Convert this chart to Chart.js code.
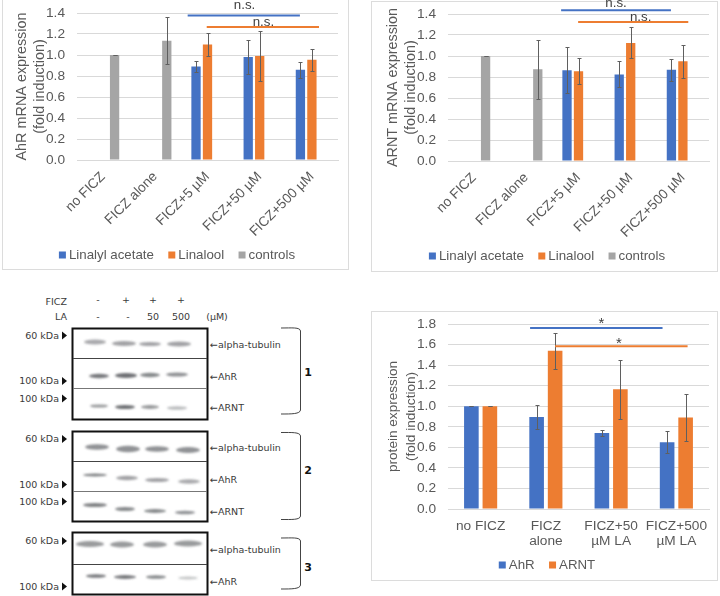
<!DOCTYPE html>
<html>
<head>
<meta charset="utf-8">
<title>AhR / ARNT expression</title>
<script src="https://cdn.jsdelivr.net/npm/chart.js@4"></script>
<style>
  html, body { margin: 0; background: #fff; }
  #page { position: relative; width: 720px; height: 596px; overflow: hidden; }
  .frame { position: absolute; border: 1px solid #dcdcdc; box-sizing: border-box; }
  canvas { position: absolute; }
  svg { position: absolute; left: 0; top: 285px; }
  svg text { font-family: "DejaVu Sans", sans-serif; font-size: 9.5px; fill: #3a3a3a; }
</style>
</head>
<body>
<div id="page">
  <div class="frame" style="left:2px;top:-2px;width:347px;height:272px"></div>
  <div class="frame" style="left:371px;top:1px;width:347px;height:271px"></div>
  <div class="frame" style="left:371px;top:311px;width:347px;height:270px"></div>
  <canvas id="ahrChart" width="360" height="280" style="left:0;top:0"></canvas>
  <canvas id="arntChart" width="349" height="280" style="left:371px;top:0"></canvas>
  <canvas id="proteinChart" width="349" height="270" style="left:371px;top:311px"></canvas>

  <svg width="330" height="311" viewBox="0 285 330 311">
    <defs>
      <filter id="soft" x="-30%" y="-120%" width="160%" height="340%"><feGaussianBlur stdDeviation="1.3 1"/></filter>
    </defs>
    <text x="67" y="305" text-anchor="end">FICZ</text>
    <text x="67" y="320" text-anchor="end">LA</text>
    <g text-anchor="middle">
      <text x="98" y="303">-</text><text x="126" y="303">+</text><text x="153" y="303">+</text><text x="181" y="303">+</text>
      <text x="98" y="320">-</text><text x="128" y="320">-</text><text x="153" y="320">50</text><text x="181" y="320">500</text>
      <text x="217" y="320">(µM)</text>
    </g>

    <!-- blot bands -->
    <g filter="url(#soft)" fill="#55585c">
      <ellipse cx="95" cy="342" rx="11" ry="2.6" opacity=".5"/><ellipse cx="124" cy="343.5" rx="12" ry="2.4" opacity=".55"/><ellipse cx="150" cy="344" rx="11" ry="2" opacity=".55"/><ellipse cx="179" cy="344" rx="12" ry="2.4" opacity=".55"/>
      <ellipse cx="99" cy="376" rx="10" ry="2.2" opacity=".8"/><ellipse cx="126" cy="375.5" rx="11" ry="2.6" opacity=".85"/><ellipse cx="150" cy="375" rx="10" ry="2.2" opacity=".7"/><ellipse cx="177" cy="374.5" rx="11" ry="2" opacity=".65"/>
      <ellipse cx="99" cy="406" rx="9" ry="1.6" opacity=".6"/><ellipse cx="125" cy="407" rx="10" ry="2" opacity=".85"/><ellipse cx="150" cy="407" rx="9" ry="1.9" opacity=".6"/><ellipse cx="177" cy="408" rx="10" ry="1.8" opacity=".4"/>

      <ellipse cx="97" cy="447" rx="12" ry="2.8" opacity=".65"/><ellipse cx="128" cy="449" rx="12" ry="3.2" opacity=".65"/><ellipse cx="157" cy="449" rx="12" ry="2.8" opacity=".65"/><ellipse cx="188" cy="450" rx="12" ry="3" opacity=".65"/>
      <ellipse cx="95" cy="475" rx="12" ry="1.5" opacity=".75"/><ellipse cx="127" cy="478" rx="11" ry="2.2" opacity=".55"/><ellipse cx="157" cy="480" rx="12" ry="2" opacity=".55"/><ellipse cx="189" cy="481.5" rx="11" ry="2.2" opacity=".5"/>
      <ellipse cx="95" cy="505" rx="12" ry="2" opacity=".75"/><ellipse cx="125" cy="509" rx="10" ry="2" opacity=".7"/><ellipse cx="155" cy="511" rx="11" ry="1.9" opacity=".7"/><ellipse cx="185" cy="512.5" rx="10" ry="1.8" opacity=".65"/>

      <ellipse cx="90" cy="544" rx="14" ry="3" opacity=".6"/><ellipse cx="122" cy="544.5" rx="12" ry="3" opacity=".6"/><ellipse cx="155" cy="544.5" rx="12" ry="3" opacity=".6"/><ellipse cx="188" cy="543.5" rx="14" ry="3" opacity=".6"/>
      <ellipse cx="96" cy="576" rx="10" ry="1.8" opacity=".8"/><ellipse cx="125" cy="577" rx="11" ry="1.9" opacity=".8"/><ellipse cx="156" cy="577" rx="10" ry="1.8" opacity=".7"/><ellipse cx="188" cy="578" rx="10" ry="1.4" opacity=".35"/>
    </g>

    <!-- blot outlines -->
    <g fill="none" stroke="#111" stroke-width="2">
      <rect x="72.5" y="328.5" width="135" height="91"/>
      <rect x="72.5" y="431.5" width="135" height="90"/>
      <rect x="72.5" y="532.5" width="135" height="62"/>
    </g>
    <g stroke-width="1" stroke="#444">
      <path d="M73 358.5H207M73 461.5H207M73 564.5H207"/>
      <path d="M73 388.5H207M73 491.5H207" stroke="#777"/>
    </g>

    <!-- size markers -->
    <g text-anchor="end">
      <text x="59" y="339">60 kDa</text><text x="59" y="384">100 kDa</text><text x="59" y="402">100 kDa</text>
      <text x="59" y="442">60 kDa</text><text x="59" y="488">100 kDa</text><text x="59" y="505">100 kDa</text>
      <text x="59" y="544">60 kDa</text><text x="59" y="590">100 kDa</text>
    </g>
    <g fill="#111">
      <path d="M62 331.5l5 4-5 4zM62 377l5 4-5 4zM62 394.5l5 4-5 4z"/>
      <path d="M62 435l5 4-5 4zM62 480.5l5 4-5 4zM62 497.5l5 4-5 4z"/>
      <path d="M62 537l5 4-5 4zM62 582.5l5 4-5 4z"/>
    </g>

    <!-- band names -->
    <text x="210" y="348">←alpha-tubulin</text><text x="210" y="380">←AhR</text><text x="210" y="411">←ARNT</text>
    <text x="210" y="451">←alpha-tubulin</text><text x="210" y="483">←AhR</text><text x="210" y="515">←ARNT</text>
    <text x="210" y="553">←alpha-tubulin</text><text x="210" y="585">←AhR</text>

    <!-- replicate brackets -->
    <g fill="none" stroke="#444" stroke-width="1">
      <path d="M281 328C292 328 300 327 300.5 331V410C300 414 292 414 281 414"/>
      <path d="M281 432.500C292 432.500 300 432 300.500 436V516C300 520 292 519.500 281 519.500"/>
      <path d="M281 538C292 538 300 537 300.500 541V585C300 589 292 589 281 589"/>
    </g>
    <g text-anchor="middle" style="font-weight:bold">
      <text x="308" y="376" style="font-size:11px;font-weight:bold;fill:#111">1</text>
      <text x="308" y="474" style="font-size:11px;font-weight:bold;fill:#111">2</text>
      <text x="308" y="571" style="font-size:11px;font-weight:bold;fill:#111">3</text>
    </g>
  </svg>
</div>

<script>
  // mRNA charts
  var mrnaLabels = ["no FICZ", "FICZ alone", "FICZ+5 µM", "FICZ+50 µM", "FICZ+500 µM"];

  var ahrAcetate = [null, null, 0.89, 0.98, 0.86];
  var ahrAcetateErr = [0, 0, 0.05, 0.16, 0.075];
  var ahrLinalool = [null, null, 1.10, 0.99, 0.955];
  var ahrLinaloolErr = [0, 0, 0.105, 0.24, 0.105];
  var ahrControls = [1.0, 1.135, null, null, null];
  var ahrControlsErr = [0, 0.225, 0, 0, 0];

  var arntAcetate = [null, null, 0.865, 0.825, 0.87];
  var arntAcetateErr = [0, 0, 0.218, 0.123, 0.105];
  var arntLinalool = [null, null, 0.855, 1.125, 0.95];
  var arntLinaloolErr = [0, 0, 0.123, 0.148, 0.155];
  var arntControls = [1.0, 0.875, null, null, null];
  var arntControlsErr = [0, 0.28, 0, 0, 0];

  // western blot quantification
  var proteinLabels = ["no FICZ", ["FICZ", "alone"], ["FICZ+50", "µM LA"], ["FICZ+500", "µM LA"]];
  var proteinAhr = [1.0, 0.895, 0.74, 0.65];
  var proteinAhrErr = [0, 0.12, 0.028, 0.105];
  var proteinArnt = [1.0, 1.54, 1.165, 0.89];
  var proteinArntErr = [0, 0.175, 0.287, 0.228];

  var BLUE = "#4472C4";
  var ORANGE = "#ED7D31";
  var GRAY = "#A5A5A5";
  var TEXT = "#595959";
  var GRID = "#D9D9D9";
  var FONT = "'Liberation Sans', Arial, sans-serif";

  // error whiskers, taken from dataset.errors
  var whiskers = {
    id: "whiskers",
    afterDatasetsDraw: function (chart) {
      var ctx = chart.ctx;
      var y = chart.scales.y;
      ctx.save();
      ctx.strokeStyle = "#5f5f5f";
      ctx.lineWidth = 1;
      chart.data.datasets.forEach(function (ds, i) {
        var meta = chart.getDatasetMeta(i);
        ds.data.forEach(function (v, j) {
          if (v === null) return;
          var x = Math.round(meta.data[j].x) + 0.5;
          var hi = Math.round(y.getPixelForValue(v + ds.errors[j])) + 0.5;
          var lo = Math.round(y.getPixelForValue(v - ds.errors[j])) + 0.5;
          ctx.beginPath();
          ctx.moveTo(x, hi); ctx.lineTo(x, lo);
          ctx.moveTo(x - 2, hi); ctx.lineTo(x + 2, hi);
          ctx.moveTo(x - 2, lo); ctx.lineTo(x + 2, lo);
          ctx.stroke();
        });
      });
      ctx.restore();
    },
  };

  // comparison bars above the columns (from/to are category positions)
  var brackets = {
    id: "brackets",
    afterDraw: function (chart, args, opts) {
      var ctx = chart.ctx;
      var xs = chart.scales.x;
      var ys = chart.scales.y;
      ctx.save();
      (opts.items || []).forEach(function (b) {
        var py = ys.getPixelForValue(b.value);
        ctx.strokeStyle = b.color;
        ctx.lineWidth = 2;
        ctx.beginPath();
        ctx.moveTo(xs.getPixelForValue(b.from), py);
        ctx.lineTo(xs.getPixelForValue(b.to), py);
        ctx.stroke();
        ctx.fillStyle = "#404040";
        ctx.font = b.font || "13.3px " + FONT;
        ctx.textAlign = "center";
        ctx.textBaseline = "middle";
        ctx.fillText(b.text, xs.getPixelForValue(b.textAt), ys.getPixelForValue(b.textValue));
      });
      ctx.restore();
    },
  };

  // Excel-style legend: small box, short gap
  var smallLegend = {
    id: "smallLegend",
    afterDraw: function (chart, args, opts) {
      var ctx = chart.ctx;
      var ds = chart.data.datasets;
      ctx.save();
      ctx.font = "13.3px " + FONT;
      ctx.textBaseline = "middle";
      ctx.textAlign = "left";
      var total = 0;
      ds.forEach(function (d, i) {
        total += 10 + ctx.measureText(d.label).width + (i ? 14.4 : 0);
      });
      var x = opts.centerX - total / 2;
      ds.forEach(function (d) {
        ctx.fillStyle = d.backgroundColor;
        ctx.fillRect(x, opts.y - 3.5, 7, 7);
        ctx.fillStyle = TEXT;
        ctx.fillText(d.label, x + 10, opts.y + 0.5);
        x += 10 + ctx.measureText(d.label).width + 14.4;
      });
      ctx.restore();
    },
  };

  function bar(label, data, errors, color, cat, pct) {
    return {
      label: label,
      data: data,
      errors: errors,
      backgroundColor: color,
      categoryPercentage: cat,
      barPercentage: pct,
    };
  }

  function makeChart(id, labels, datasets, cfg) {
    return new Chart(document.getElementById(id), {
      type: "bar",
      data: { labels: labels, datasets: datasets },
      plugins: [whiskers, brackets, smallLegend],
      options: {
        responsive: false,
        animation: false,
        layout: { padding: { top: cfg.top, right: cfg.right, left: 0, bottom: 0 } },
        plugins: {
          legend: { display: false },
          tooltip: { enabled: false },
          brackets: { items: cfg.brackets },
          smallLegend: { centerX: cfg.legendX, y: cfg.legendY },
        },
        scales: {
          x: {
            grid: { display: false },
            border: { color: GRID },
            afterFit: function (s) { s.height = cfg.xHeight; },
            ticks: {
              color: TEXT,
              autoSkip: false,
              font: { family: FONT, size: cfg.tickSize, lineHeight: 1.15 },
              padding: cfg.xPad,
              minRotation: cfg.rotation,
              maxRotation: cfg.rotation,
            },
          },
          y: {
            min: 0,
            max: cfg.max,
            // tick padding would otherwise push the plot top down
            afterFit: function (s) { s.width = 77; s.paddingTop = 0; s.paddingBottom = 0; },
            grid: { color: GRID, drawTicks: false },
            border: { display: false },
            ticks: {
              color: TEXT,
              stepSize: 0.2,
              padding: 12,
              font: { family: FONT, size: cfg.tickSize },
              callback: function (v) { return v.toFixed(1); },
            },
            title: {
              display: true,
              text: cfg.title,
              color: TEXT,
              padding: { top: 13, bottom: 0 },
              font: { family: FONT, size: cfg.titleSize, lineHeight: 18 / cfg.titleSize },
            },
          },
        },
      },
    });
  }

  makeChart("ahrChart", mrnaLabels, [
    bar("Linalyl acetate", ahrAcetate, ahrAcetateErr, BLUE, 0.66, 0.81),
    bar("Linalool", ahrLinalool, ahrLinaloolErr, ORANGE, 0.66, 0.81),
    bar("controls", ahrControls, ahrControlsErr, GRAY, 0.66, 0.81),
  ], {
    title: ["AhR mRNA expression", "(fold induction)"],
    max: 1.4, top: 13, right: 22, xHeight: 120, xPad: 1, rotation: 45,
    tickSize: 13.7, titleSize: 14.4,
    legendX: 177, legendY: 255,
    brackets: [
      { color: BLUE, value: 1.377, from: 1.62, to: 3.77, text: "n.s.", textAt: 2.71, textValue: 1.47 },
      { color: ORANGE, value: 1.267, from: 1.985, to: 4.136, text: "n.s.", textAt: 3.07, textValue: 1.31 },
    ],
  });

  makeChart("arntChart", mrnaLabels, [
    bar("Linalyl acetate", arntAcetate, arntAcetateErr, BLUE, 0.66, 0.81),
    bar("Linalool", arntLinalool, arntLinaloolErr, ORANGE, 0.66, 0.81),
    bar("controls", arntControls, arntControlsErr, GRAY, 0.66, 0.81),
  ], {
    title: ["ARNT mRNA expression", "(fold induction)"],
    max: 1.4, top: 14, right: 11, xHeight: 119, xPad: 1, rotation: 45,
    tickSize: 13.7, titleSize: 14.4,
    legendX: 176, legendY: 256,
    brackets: [
      { color: BLUE, value: 1.435, from: 1.667, to: 3.771, text: "n.s.", textAt: 2.72, textValue: 1.5 },
      { color: ORANGE, value: 1.324, from: 1.993, to: 4.103, text: "n.s.", textAt: 3.19, textValue: 1.366 },
    ],
  });

  makeChart("proteinChart", proteinLabels, [
    bar("AhR", proteinAhr, proteinAhrErr, BLUE, 0.567, 0.79),
    bar("ARNT", proteinArnt, proteinArntErr, ORANGE, 0.567, 0.79),
  ], {
    title: ["protein expression", "(fold induction)"],
    max: 1.8, top: 13, right: 11, xHeight: 72, xPad: 1, rotation: 0,
    tickSize: 13.7, titleSize: 13.6,
    legendX: 176, legendY: 254,
    brackets: [
      { color: BLUE, value: 1.761, from: 0.758, to: 2.788, text: "*", textAt: 1.85, textValue: 1.8, font: "15px " + FONT },
      { color: ORANGE, value: 1.584, from: 1.141, to: 3.172, text: "*", textAt: 2.12, textValue: 1.61, font: "15px " + FONT },
    ],
  });
</script>
</body>
</html>
